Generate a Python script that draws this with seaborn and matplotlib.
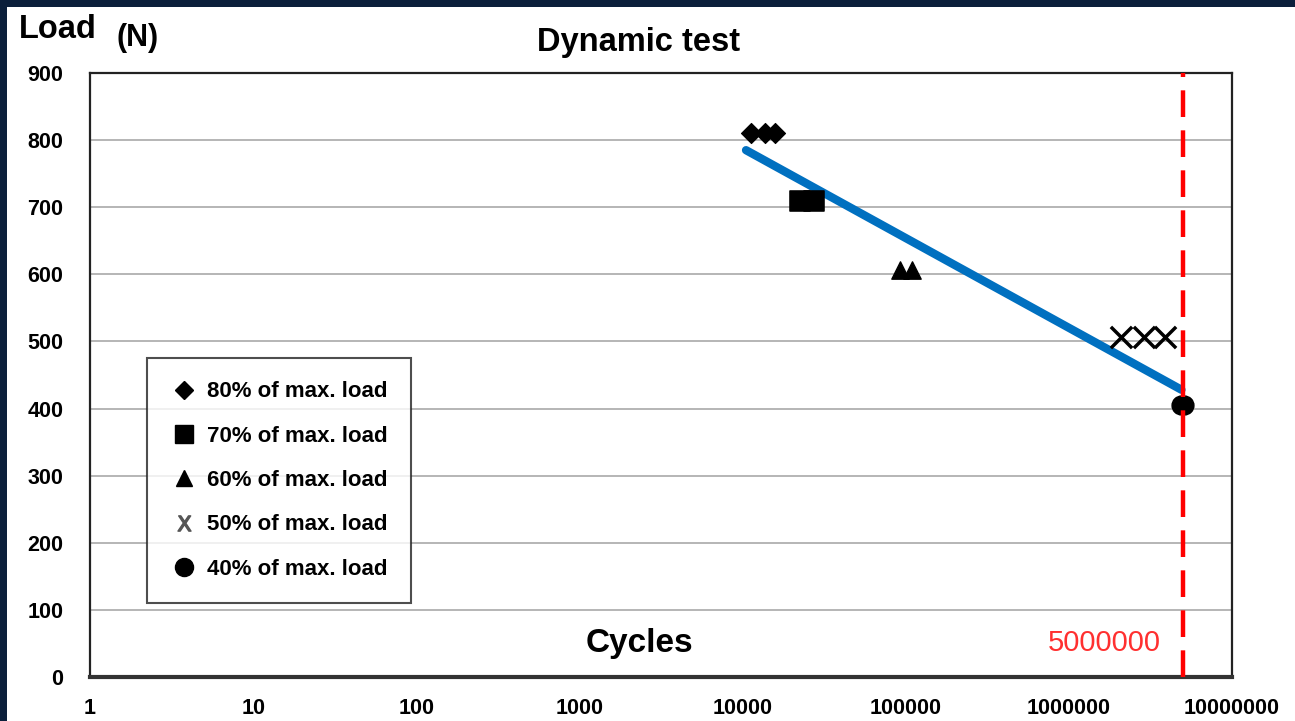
import numpy as np
import pandas as pd
import matplotlib
matplotlib.use("Agg")
import matplotlib.pyplot as plt
from matplotlib.lines import Line2D
from matplotlib.patches import Rectangle
import seaborn as sns

# Data
cycles_80 = [11200, 13800, 15800]
load_80 = [810, 810, 810]
cycles_70 = [22500, 27500]
load_70 = [710, 710]
cycles_60 = [92000, 109000]
load_60 = [607, 607]
cycles_50 = [2100000, 2900000, 3900000]
load_50 = [507, 507, 507]
cycles_40 = [4850000, 5100000]
load_40 = [405, 405]

fit_cycles = [10500, 4900000]
fit_load = [785, 428]

limit_cycles = 5000000
y_ticks = [0, 100, 200, 300, 400, 500, 600, 700, 800, 900]
x_ticks = [1, 10, 100, 1000, 10000, 100000, 1000000, 10000000]

sns.set_style("white")
plt.rcParams['font.family'] = ['Liberation Sans', 'DejaVu Sans']
plt.rcParams['text.color'] = 'black'
plt.rcParams['xtick.color'] = 'black'
plt.rcParams['ytick.color'] = 'black'

fig = plt.figure(figsize=(12.95, 7.21), dpi=100)
fig.patch.set_facecolor("#0b1f3b")
# white panel inside the dark border
fig.patches.append(Rectangle((7 / 1295, 0), 1, 1 - 7 / 721, transform=fig.transFigure,
                             facecolor="white", edgecolor="none", zorder=-10))

ax = fig.add_axes([90 / 1295, 1 - 677 / 721, (1232 - 90) / 1295, (677 - 73) / 721])
ax.set_facecolor("white")

# horizontal gridlines
for v in y_ticks[1:-1]:
    ax.axhline(v, color="#b0b0b0", lw=1.3, zorder=1)

sns.lineplot(x=fit_cycles, y=fit_load, ax=ax, color="#0070c0", lw=6, zorder=3)

ms = 130
sns.scatterplot(x=cycles_80, y=load_80, ax=ax, marker="D", s=ms * 0.8, color="black",
                edgecolor="black", zorder=4)
sns.scatterplot(x=cycles_70, y=load_70, ax=ax, marker="s", s=ms * 1.6, color="black",
                edgecolor="black", zorder=4)
sns.scatterplot(x=cycles_60, y=load_60, ax=ax, marker="^", s=ms * 1.2, color="black",
                edgecolor="black", zorder=4)
sns.scatterplot(x=cycles_50, y=load_50, ax=ax, marker="x", s=ms * 1.8, color="black",
                linewidth=2.5, zorder=4)
sns.scatterplot(x=cycles_40, y=load_40, ax=ax, marker="o", s=ms * 1.4, color="black",
                edgecolor="black", zorder=4)

ax.axvline(limit_cycles, color="#ff0000", lw=3.2, ls=(0, (6, 3)), zorder=5)

ax.set_xscale("log")
ax.set_xlim(1, 10000000)
ax.set_ylim(0, 900)
ax.set_xticks(x_ticks)
ax.set_xticklabels([str(t) for t in x_ticks])
ax.set_yticks(y_ticks)
ax.minorticks_off()
ax.tick_params(axis="both", which="major", direction="out", length=5, width=1,
               color="#555555", labelsize=15.5)
for lab in ax.get_xticklabels() + ax.get_yticklabels():
    lab.set_fontweight("bold")
ax.tick_params(axis="x", pad=10)
ax.tick_params(axis="y", pad=14)

for side in ["top", "right", "left"]:
    ax.spines[side].set_color("#222222")
    ax.spines[side].set_linewidth(1.6)
ax.spines["bottom"].set_color("#333333")
ax.spines["bottom"].set_linewidth(3)

ax.set_xlabel("")
ax.set_ylabel("")

# texts
fig.text(639 / 1295, 1 - 42 / 721, "Dynamic test", ha="center", va="center",
         fontsize=23.5, fontweight="bold")
fig.text(19 / 1295, 1 - 30 / 721, "Load", ha="left", va="center",
         fontsize=23.5, fontweight="bold")
fig.text(117 / 1295, 1 - 38 / 721, "(N)", ha="left", va="center",
         fontsize=22, fontweight="bold")
ax.text(0.481, 0.056, "Cycles", transform=ax.transAxes, ha="center", va="center",
        fontsize=24, fontweight="bold")
ax.text(0.888, 0.056, "5000000", transform=ax.transAxes, ha="center", va="center",
        fontsize=21, color="#ff3030")

handles = [
    Line2D([], [], ls="none", marker="D", ms=9, color="black"),
    Line2D([], [], ls="none", marker="s", ms=13, color="black"),
    Line2D([], [], ls="none", marker="^", ms=11, color="black"),
    Line2D([], [], ls="none", marker=r"$\mathrm{X}$", ms=11, color="#555555"),
    Line2D([], [], ls="none", marker="o", ms=13, color="black"),
]
labels = ["80% of max. load", "70% of max. load", "60% of max. load",
          "50% of max. load", "40% of max. load"]
leg = ax.legend(handles, labels, loc="upper left",
                bbox_to_anchor=((147 - 90) / 1142, (677 - 358) / 604),
                frameon=True, fancybox=False, edgecolor="#222222",
                prop={"size": 16, "weight": "bold"}, labelspacing=1.05,
                handletextpad=0.45, handlelength=1.2, borderpad=1.05,
                borderaxespad=0)
leg.get_frame().set_linewidth(1.5)

fig.savefig("out.png", dpi=100, facecolor=fig.get_facecolor())
